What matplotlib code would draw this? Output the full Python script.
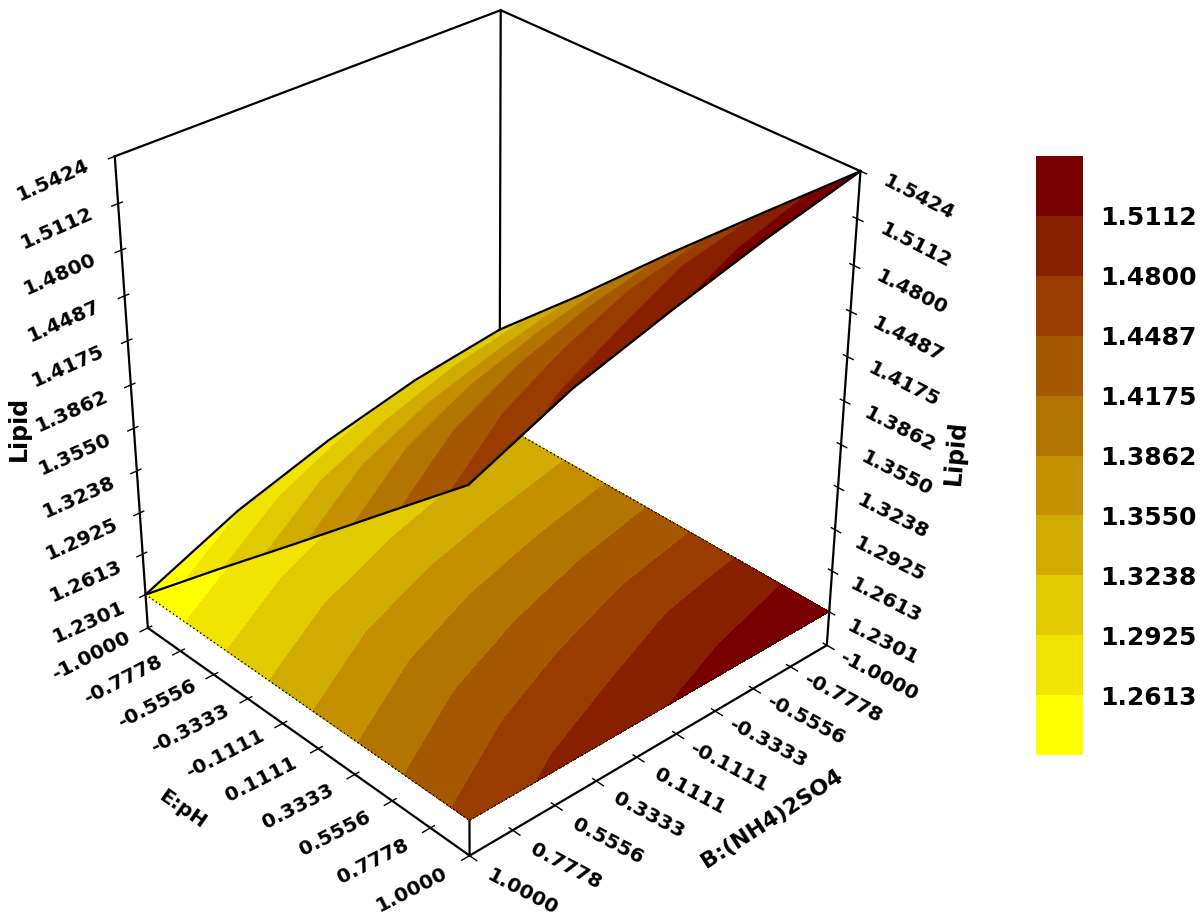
import matplotlib
matplotlib.use('Agg')
import matplotlib.pyplot as plt
import numpy as np
from mpl_toolkits.mplot3d import proj3d
from mpl_toolkits.mplot3d.art3d import Poly3DCollection

# values
e_vals = [-1.0, -0.5, 0.0, 0.5, 1.0]
b_vals = [-1.0, -0.5, 0.0, 0.5, 1.0]
# rows = E, columns = B
lipid = [
    [1.3055, 1.2965, 1.2810, 1.2600, 1.2301],
    [1.3640, 1.3520, 1.3373, 1.3173, 1.2880],
    [1.4250, 1.4130, 1.3972, 1.3757, 1.3450],
    [1.4840, 1.4741, 1.4550, 1.4335, 1.4026],
    [1.5424, 1.5270, 1.5090, 1.4890, 1.4600],
]
levels = [1.2301, 1.2613, 1.2925, 1.3238, 1.3550, 1.3862, 1.4175, 1.4487, 1.4800, 1.5112, 1.5424]
band_colors = ['#ffff00', '#f0e400', '#e2ca00', '#d0ac00', '#c49000',
               '#b47400', '#a65800', '#983c00', '#882000', '#780000']
axis_ticks = ['-1.0000', '-0.7778', '-0.5556', '-0.3333', '-0.1111',
              '0.1111', '0.3333', '0.5556', '0.7778', '1.0000']
z_base = 1.2040

E = np.array(e_vals)
B = np.array(b_vals)
Z = np.array(lipid)
z_top = levels[-1]
z_floor = levels[0]

fig = plt.figure(figsize=(12, 9.21), dpi=100)
ax = fig.add_axes([13 / 1200, 0.040, 921 / 1200, 1.0], projection='3d')
ax.computed_zorder = False
ax.set_proj_type('persp', focal_length=0.62)
ax.view_init(elev=31.5, azim=-42.5)
ax.set_box_aspect((2, 2, 2.2), zoom=0.95)
ax.set_xlim(-1, 1, view_margin=0)
ax.set_ylim(1, -1, view_margin=0)
ax.set_zlim(z_base, z_top, view_margin=0)
ax.axis('off')


def line(xs, ys, zs, zorder=1, **kw):
    kw.setdefault('color', 'k')
    kw.setdefault('lw', 1.6)
    ax.plot(xs, ys, zs, zorder=zorder, clip_on=False, **kw)


# 3D text ignores rotation, so place it in the projected plane
def label(x, y, z, s, rotation, size=14.5):
    px, py, _ = proj3d.proj_transform(x, y, z, ax.get_proj())
    ax.text2D(px, py, s, transform=ax.transData, rotation=rotation, rotation_mode='anchor',
              fontsize=size, fontweight='bold', ha='center', va='center', zorder=6, clip_on=False)


# box
line([-1, -1], [1, 1], [z_base, z_top])
line([1, 1], [-1, -1], [z_base, z_top])
line([-1, -1], [-1, -1], [z_floor, z_top])
line([-1, -1], [1, -1], [z_top, z_top])
line([-1, 1], [-1, -1], [z_top, z_top])
line([-1, 1], [1, 1], [z_base, z_base])
line([1, 1], [1, -1], [z_base, z_base])
line([1, 1], [1, 1], [z_base, z_floor])

# floor contour
EE, BB = np.meshgrid(E, B, indexing='ij')
floor = ax.contourf(EE, BB, Z, levels=levels, colors=band_colors, zdir='z', offset=z_floor, zorder=2)
floor.set_clip_on(False)
line([-1, 1], [1, 1], [z_floor, z_floor], zorder=3, lw=1.0, ls=(0, (1, 2)))
line([1, 1], [1, -1], [z_floor, z_floor], zorder=3, lw=1.0, ls=(0, (1, 2)))
line([-1, 1], [-1, -1], [z_floor, z_floor], zorder=3, lw=1.0, ls=(0, (1, 2)))


# surface bands: the contour polygons lifted on to the surface
def height(px, py):
    i = np.clip(np.searchsorted(E, px) - 1, 0, len(E) - 2)
    j = np.clip(np.searchsorted(B, py) - 1, 0, len(B) - 2)
    u = (px - E[i]) / (E[i + 1] - E[i])
    v = (py - B[j]) / (B[j + 1] - B[j])
    return ((1 - u) * (1 - v) * Z[i, j] + u * (1 - v) * Z[i + 1, j]
            + (1 - u) * v * Z[i, j + 1] + u * v * Z[i + 1, j + 1])


tmp_fig, tmp_ax = plt.subplots()
cs = tmp_ax.contourf(EE, BB, Z, levels=levels)
for path, col in zip(cs.get_paths(), band_colors):
    polys = []
    for p in path.to_polygons():
        polys.append(np.column_stack([p[:, 0], p[:, 1], height(p[:, 0], p[:, 1])]))
    if polys:
        band = Poly3DCollection(polys, facecolors=col, edgecolors=col, linewidths=0.5, zorder=4)
        band.set_clip_on(False)
        ax.add_collection3d(band)
plt.close(tmp_fig)

# surface outline
line(E, np.full(5, -1.0), Z[:, 0], zorder=5)
line(E, np.full(5, 1.0), Z[:, -1], zorder=5)
line(np.full(5, -1.0), B, Z[0, :], zorder=5)
line(np.full(5, 1.0), B, Z[-1, :], zorder=5)

# ticks and their labels
tick_pos = np.linspace(-1, 1, 10)
for t, lab in zip(tick_pos, axis_ticks):
    line([t, t], [0.98, 1.04], [z_base, z_base], lw=1.0)
    line([0.98, 1.04], [t, t], [z_base, z_base], lw=1.0)
    label(t, 1.29, z_base, lab, 27)
    label(1.29, t, z_base, lab, -28)
for zv in levels:
    lab = f'{zv:.4f}'
    line([-1, -1], [0.98, 1.03], [zv, zv], lw=1.0)
    line([0.98, 1.03], [-1, -1], [zv, zv], lw=1.0)
    label(-1, 1.29, zv, lab, 24)
    label(1.29, -1, zv, lab, -27)

label(-1, 1.54, 1.39, 'Lipid', 90, 17)
label(1.57, -1, 1.39, 'Lipid', 85, 17)
label(0.05, 1.63, z_base, 'E:pH', -35)
label(1.62, 0.0, z_base, 'B:(NH4)2SO4', 33, 16)

# colour key
cax = fig.add_axes([1036 / 1200, 1 - 755 / 921, 47 / 1200, 599 / 921])
for lo, hi, col in zip(levels[:-1], levels[1:], band_colors):
    cax.bar(0, hi - lo, bottom=lo, width=1, color=col)
cax.set_xlim(-0.5, 0.5)
cax.set_ylim(levels[0], levels[-1])
cax.set_xticks([])
cax.yaxis.tick_right()
cax.set_yticks(levels[1:-1], [f'{v:.4f}' for v in levels[1:-1]], fontsize=18, fontweight='bold')
cax.tick_params(length=0, pad=12)
for s in cax.spines.values():
    s.set_visible(False)

fig.savefig('out.png', dpi=100)
